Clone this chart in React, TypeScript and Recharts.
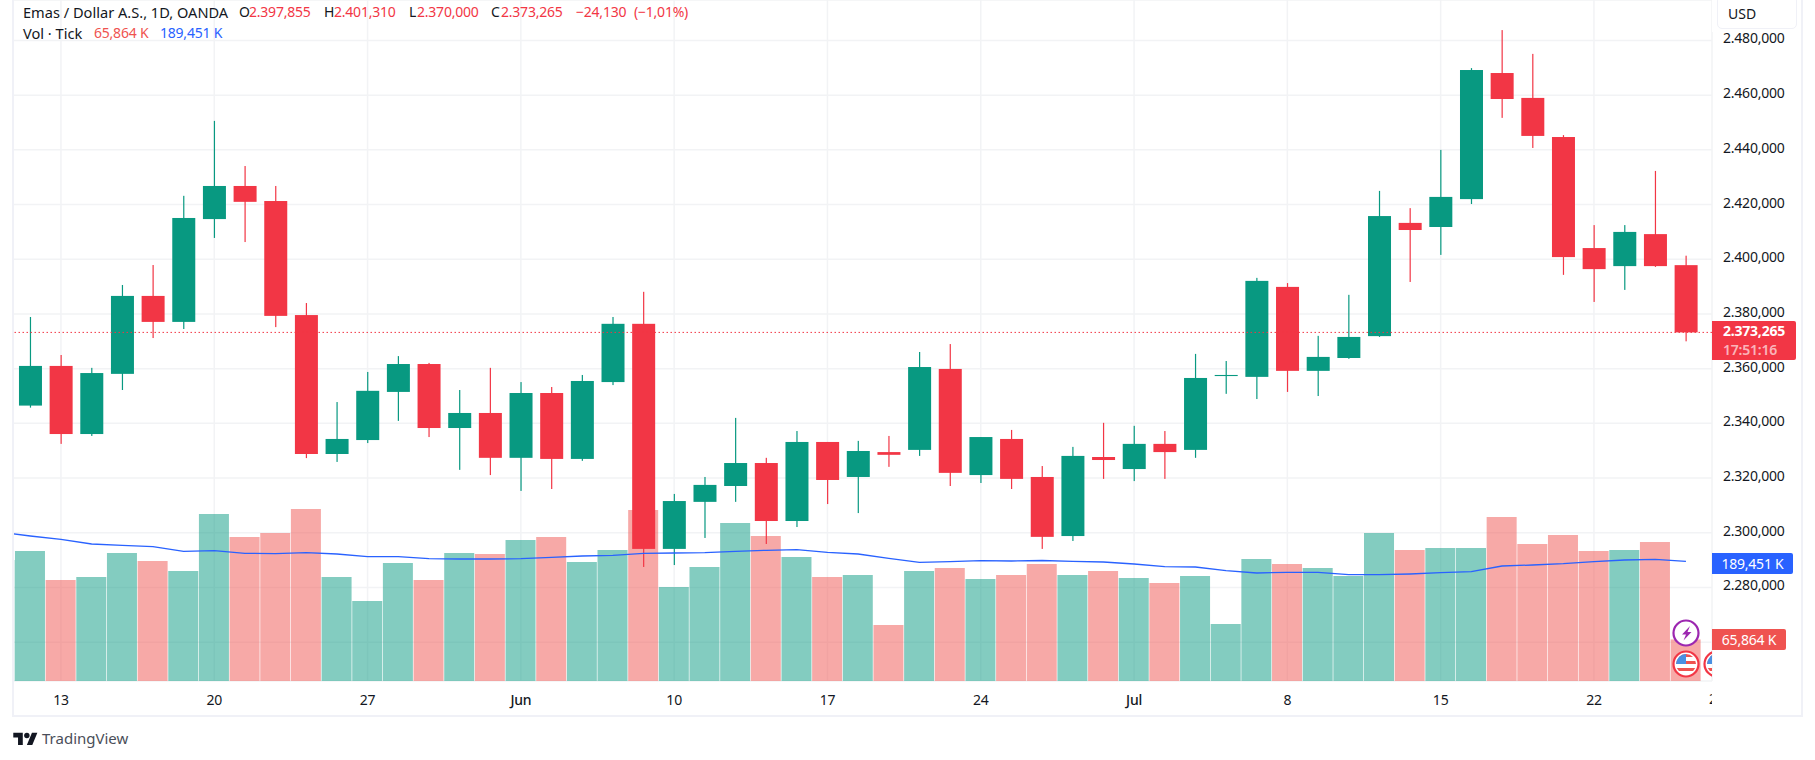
import React from "react";
import { ComposedChart, Bar, Line, XAxis, YAxis, CartesianGrid, ReferenceLine } from "recharts";

const dates = [
  "05-09","05-10","05-13","05-14","05-15","05-16","05-17","05-20","05-21","05-22","05-23","05-24",
  "05-27","05-28","05-29","05-30","05-31","06-03","06-04","06-05","06-06","06-07","06-10","06-11",
  "06-12","06-13","06-14","06-17","06-18","06-19","06-20","06-21","06-24","06-25","06-26","06-27",
  "06-28","07-01","07-02","07-03","07-04","07-05","07-08","07-09","07-10","07-11","07-12","07-15",
  "07-16","07-17","07-18","07-19","07-22","07-23","07-24","07-25",
];
const opens = [
  2308,2346.5,2361,2336.1,2358.1,2386.6,2377.1,2414.7,2426.8,2421.3,2379.6,2328.8,
  2333.9,2351.5,2361.7,2338.3,2343.8,2327.4,2351.1,2327,2355.1,2376.4,2294.1,2311.3,
  2317.1,2325.5,2304.3,2333.2,2320.4,2329.5,2330.3,2359.9,2321.1,2334.3,2320.4,2298.8,
  2327.7,2323.3,2332.5,2330.3,2357.3,2357,2389.9,2359.2,2363.9,2371.9,2413.3,2411.8,
  2422,2468.1,2459,2444.7,2404.1,2397.5,2409.2,2397.855,
];
const highs = [
  2348,2378.9,2365,2360.3,2390.6,2397.9,2423.2,2450.6,2434.1,2426.8,2384,2347.8,
  2358.8,2364.6,2362.1,2352.2,2360.3,2355.1,2353.3,2357.7,2378.9,2388.1,2314.2,2320.4,
  2342,2327.4,2337.2,2333.2,2333.6,2335.4,2366.1,2369,2335,2337.6,2324.4,2331.4,
  2340.2,2339.1,2337.2,2365.4,2362.8,2393.2,2391.3,2372,2387,2425,2418.7,2440,
  2469.9,2483.8,2475.1,2445.4,2412.5,2412.5,2432.3,2401.31,
];
const lows = [
  2306,2345.75,2332.5,2335.4,2352.2,2371.2,2374.5,2407.8,2406.3,2375.2,2327.3,2325.9,
  2332.8,2340.9,2335,2323,2321.1,2315.3,2316,2326.3,2354,2287.5,2288.2,2298.1,
  2311.3,2295.9,2302.1,2310.5,2307.2,2324.1,2328.1,2317.1,2318.2,2316,2294.1,2297,
  2319.7,2318.9,2319.7,2327.4,2350.8,2348.9,2351.5,2350,2363.6,2371.6,2391.7,2401.6,
  2420.2,2451.7,2440.7,2394.3,2384.4,2388.8,2397.2,2370,
];
const closes = [
  2346,2361,2336.1,2358.4,2386.6,2377.1,2415.1,2426.8,2421,2379.3,2328.8,2334.3,
  2351.9,2361.7,2338.3,2343.8,2327.4,2351.1,2327,2355.5,2376.4,2294.1,2311.6,2317.5,
  2325.5,2304.3,2333.2,2319.3,2329.9,2328.5,2360.6,2321.9,2335,2319.7,2298.5,2328.1,
  2326.6,2332.5,2329.5,2356.6,2357.7,2392.1,2359.2,2364.3,2371.6,2415.8,2410.7,2422.8,
  2469.2,2458.6,2445.1,2400.8,2396.4,2410,2397.5,2373.265,
];
const volumes = [
  191785,206050,160085,164840,202880,190200,174350,264695,228240,234580,272620,164840,
  126800,187030,160085,202880,201295,223485,228240,188615,207635,271035,148990,180690,
  250430,229825,196540,164840,168010,88760,174350,179105,161670,168010,185445,168010,
  174350,163255,155330,166425,90345,193370,185445,179105,166425,234580,207635,210805,
  210805,259940,217145,231410,206050,207635,220315,65864,
];
const volumeMa = [
  236000,229825,224595,217145,215085,212865,205575,206525,202405,201770,203355,201295,
  197015,197015,193845,193370,193370,193845,196065,198125,199235,202405,202880,203355,
  205575,207160,208110,203990,201295,194480,188140,189090,190675,190200,190990,189725,
  188615,185445,181165,180690,174825,171180,172290,172290,168485,168485,169595,171655,
  173240,182275,183860,185920,189090,191785,192895,189451,
];
const tickDates = ["05-13","05-20","05-27","06-03","06-10","06-17","06-24","07-01","07-08","07-15","07-22"];
const tickLabels = ["13","20","27","Jun","10","17","24","Jul","8","15","22"];
const priceTicks = [2260,2280,2300,2320,2340,2360,2380,2400,2420,2440,2460,2480];
const lastPrice = 2373.265;

const rows = dates.map((date, i) => ({
  date, open: opens[i], high: highs[i], low: lows[i], close: closes[i], volume: volumes[i], ma: volumeMa[i],
}));

const FONT = "'Noto Sans', sans-serif";
const TEXT = "#131722";
const UP = "#089981";
const DOWN = "#F23645";
const NUM = 14;
const TRACK = -0.22;

const formatPrice = (v: number) => {
  const whole = Math.floor(v / 1000);
  const rest = String(v % 1000).padStart(3, "0");
  return `${whole}.${rest},000`;
};

const Candle = (props: any) => {
  const { x, y, width, height, payload } = props;
  const { open, high, low, close } = payload;
  const k = height / (high - low);
  const at = (p: number) => y + (high - p) * k;
  const color = close >= open ? UP : DOWN;
  const top = at(Math.max(open, close));
  const bottom = at(Math.min(open, close));
  return (
    <g>
      <rect x={x + width / 2 - 0.6} y={y} width={1.2} height={height} fill={color} />
      <rect x={x} y={top} width={width} height={Math.max(bottom - top, 1)} fill={color} />
    </g>
  );
};

const VolumeBar = (props: any) => {
  const { x, y, width, height, payload } = props;
  const color = payload.close >= payload.open ? "rgba(8,153,129,0.5)" : "rgba(239,83,80,0.5)";
  return <rect x={x} y={y} width={width} height={height} fill={color} />;
};

const TimeTick = (props: any) => {
  const { x, y, payload } = props;
  const idx = tickDates.indexOf(payload.value);
  const label = idx >= 0 ? tickLabels[idx] : "";
  const bold = label === "Jun" || label === "Jul";
  return (
    <text x={x} y={y} dy={16} textAnchor="middle" fontSize={NUM} fontFamily={FONT} fontWeight={bold ? 500 : 400} fill={TEXT} style={{ letterSpacing: TRACK }}>
      {label}
    </text>
  );
};

const PriceTick = (props: any) => {
  const { x, y, payload } = props;
  return (
    <text x={x} y={y} dy={3} textAnchor="start" fontSize={NUM} fontFamily={FONT} fill={TEXT} style={{ letterSpacing: TRACK }}>
      {formatPrice(payload.value)}
    </text>
  );
};

const abs = (left: number, top: number, extra: any = {}): any => ({
  position: "absolute", left, top, whiteSpace: "nowrap", fontFamily: FONT, ...extra,
});
const head = { fontSize: NUM, lineHeight: "20px", color: TEXT };
const red = { fontSize: NUM, lineHeight: "20px", color: DOWN, letterSpacing: TRACK };

const Flag = ({ cx, cy }: { cx: number; cy: number }) => (
  <g>
    <circle cx={cx} cy={cy} r={12.5} fill="#fff" stroke="#F23645" strokeWidth={2.2} />
    <clipPath id={`f${cx}`}><circle cx={cx} cy={cy} r={10} /></clipPath>
    <g clipPath={`url(#f${cx})`}>
      <rect x={cx - 10} y={cy - 10} width={20} height={20} fill="#fff" />
      <rect x={cx - 10} y={cy - 3} width={20} height={3} fill="#ef5350" />
      <rect x={cx - 10} y={cy + 4} width={20} height={3} fill="#ef5350" />
      <rect x={cx - 10} y={cy - 10} width={20} height={3} fill="#ef5350" />
      <rect x={cx - 10} y={cy - 10} width={10} height={10} fill="#4a90e2" />
    </g>
  </g>
);

export default function App() {
  return (
    <div style={{ position: "absolute", left: 0, top: 0, width: 1815, height: 760, background: "#fff", overflow: "hidden" }}>
      <div style={{ position: "absolute", left: 0, top: 0 }}>
        <ComposedChart width={1815} height={760} data={rows} margin={{ top: 0, left: 13, right: 13, bottom: 44 }} barCategoryGap={0}>
          <CartesianGrid xAxisId="main" yAxisId="price" stroke="#f2f3f5" strokeWidth={1.5} />
          <XAxis
            xAxisId="main" dataKey="date" ticks={tickDates} interval={0} height={35} allowDataOverflow
            padding={{ left: -28.69, right: 10.73 }} axisLine={false} tickLine={false} tick={<TimeTick />}
          />
          <XAxis xAxisId="vol" dataKey="date" hide allowDataOverflow padding={{ left: -28.69, right: 10.73 }} />
          <YAxis
            yAxisId="price" orientation="right" width={90} domain={[2245.8, 2494.8]} ticks={priceTicks} interval={0}
            allowDataOverflow axisLine={false} tickLine={false} tickMargin={5} tick={<PriceTick />}
          />
          <YAxis yAxisId="volume" hide domain={[0, 1079385]} allowDataOverflow />
          <Bar xAxisId="vol" yAxisId="volume" dataKey="volume" barSize={30} isAnimationActive={false} shape={<VolumeBar />} />
          <Line xAxisId="vol" yAxisId="volume" dataKey="ma" type="linear" stroke="#2962ff" strokeWidth={1.3} dot={false} activeDot={false} isAnimationActive={false} />
          <Bar xAxisId="main" yAxisId="price" dataKey={(d: any) => [d.low, d.high]} barSize={23} isAnimationActive={false} shape={<Candle />} />
          <ReferenceLine xAxisId="main" yAxisId="price" y={lastPrice} stroke={DOWN} strokeWidth={1} strokeDasharray="1.5 2.5" />
        </ComposedChart>
      </div>

      {/* left edge of the pane, pane border */}
      <div style={{ position: "absolute", left: 0, top: 0, width: 13, height: 720, background: "#fff" }} />
      <div style={{ position: "absolute", left: 12, top: -2, width: 1791, height: 719, border: "2px solid #f0f1f7", boxSizing: "border-box" }} />

      {/* legend */}
      <div style={abs(23, 2, { fontSize: 14.6, lineHeight: "20px", color: TEXT })}>Emas / Dollar A.S., 1D, OANDA</div>
      <div style={abs(239, 2, head)}>O</div>
      <div style={abs(249, 2, red)}>2.397,855</div>
      <div style={abs(324, 2, head)}>H</div>
      <div style={abs(334, 2, red)}>2.401,310</div>
      <div style={abs(409, 2, head)}>L</div>
      <div style={abs(417, 2, red)}>2.370,000</div>
      <div style={abs(491, 2, head)}>C</div>
      <div style={abs(501, 2, red)}>2.373,265</div>
      <div style={abs(576, 2, red)}>−24,130</div>
      <div style={abs(634, 2, red)}>(−1,01%)</div>
      <div style={abs(23, 23, { fontSize: 14.6, lineHeight: "20px", color: TEXT })}>Vol · Tick</div>
      <div style={abs(94, 23, { fontSize: NUM, lineHeight: "20px", color: "#ef5350", letterSpacing: TRACK })}>65,864 K</div>
      <div style={abs(160, 23, { fontSize: NUM, lineHeight: "20px", color: "#2962ff", letterSpacing: TRACK })}>189,451 K</div>

      {/* currency button */}
      <div style={{ position: "absolute", left: 1712, top: 0, width: 89, height: 32, background: "#fff" }} />
      <div style={abs(1717, -4, { width: 80, height: 33, border: "1.5px solid #f0f1f7", borderRadius: 5, boxSizing: "border-box", background: "#fff", fontSize: 14, lineHeight: "34px", paddingLeft: 10, color: TEXT })}>USD</div>

      {/* price labels */}
      <div style={abs(1712, 321, { width: 84, height: 39, background: DOWN, borderRadius: "0 2px 2px 0", color: "#fff", fontSize: NUM, lineHeight: "19px", letterSpacing: TRACK, paddingLeft: 11, boxSizing: "border-box" })}>
        <div style={{ fontWeight: 700 }}>2.373,265</div>
        <div style={{ color: "rgba(255,255,255,0.65)", fontWeight: 600 }}>17:51:16</div>
      </div>
      <div style={abs(1712, 553, { width: 81, height: 21, background: "#2962ff", borderRadius: "0 2px 2px 0", color: "#fff", textAlign: "center", fontSize: NUM, lineHeight: "21px", letterSpacing: TRACK })}>189,451 K</div>
      <div style={abs(1712, 629, { width: 74, height: 21, background: "#ef5350", borderRadius: "0 2px 2px 0", color: "#fff", textAlign: "center", fontSize: NUM, lineHeight: "21px", letterSpacing: TRACK })}>65,864 K</div>

      {/* clipped last time label */}
      <div style={abs(1704, 689, { width: 8, height: 20, overflow: "hidden", fontSize: NUM, lineHeight: "20px", color: TEXT })}>
        <span style={{ marginLeft: 5 }}>2</span>
      </div>

      {/* event marks */}
      <svg style={{ position: "absolute", left: 1660, top: 610, width: 52, height: 72 }} viewBox="1660 610 52 72">
        <circle cx={1686} cy={633} r={12.5} fill="#fff" stroke="#9c27b0" strokeWidth={2.2} />
        <path d="M1690 626l-8 8.5h4l-2.5 6 8-8.5h-4z" fill="#9c27b0" />
        <Flag cx={1686} cy={664} />
        <Flag cx={1717} cy={664} />
      </svg>

      {/* logo */}
      <svg style={{ position: "absolute", left: 13, top: 730, width: 25, height: 19 }} viewBox="0 0 36 28">
        <path d="M14 22H7V11H0V4h14v18zM28 22h-8l7.5-18h8L28 22z" fill={TEXT} />
        <circle cx={20} cy={8} r={4} fill={TEXT} />
      </svg>
      <div style={abs(42, 728, { fontSize: 15, lineHeight: "20px", color: "#4a4e59" })}>TradingView</div>
    </div>
  );
}
